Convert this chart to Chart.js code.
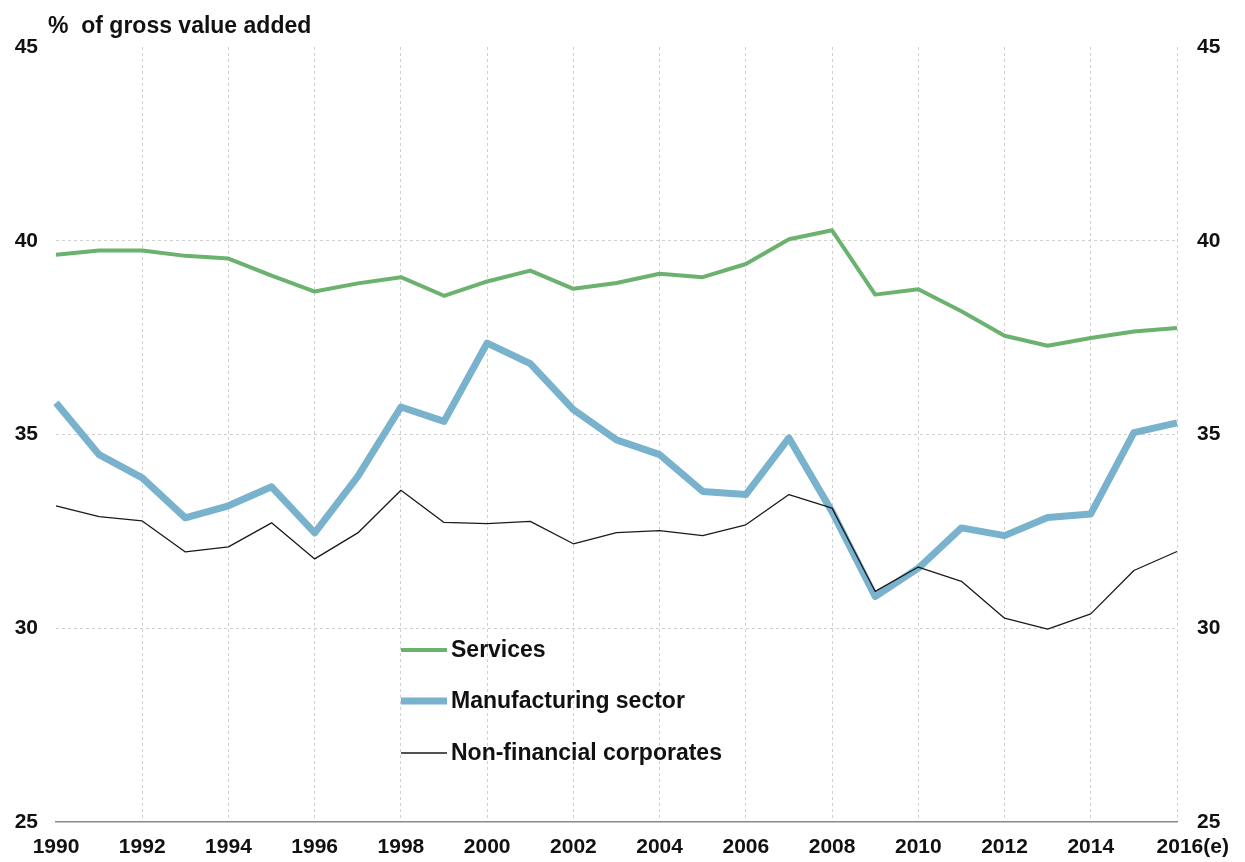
<!DOCTYPE html>
<html>
<head>
<meta charset="utf-8">
<script src="https://cdn.jsdelivr.net/npm/chart.js@4/dist/chart.umd.min.js"></script>
<style>
  html, body { margin: 0; padding: 0; background: #ffffff; }
  #wrap { width: 1245px; height: 862px; position: relative; }
</style>
</head>
<body>
<div id="wrap"><canvas id="c" width="1245" height="862"></canvas></div>
<script>
const years = ['1990','1991','1992','1993','1994','1995','1996','1997','1998','1999','2000','2001','2002','2003','2004','2005','2006','2007','2008','2009','2010','2011','2012','2013','2014','2015','2016(e)'];
const services = [39.64,39.75,39.75,39.61,39.54,39.10,38.69,38.90,39.06,38.58,38.95,39.23,38.76,38.91,39.15,39.06,39.40,40.04,40.27,38.61,38.75,38.18,37.55,37.29,37.49,37.66,37.75];
const manufacturing = [35.82,34.48,33.88,32.85,33.16,33.65,32.46,33.92,35.71,35.34,37.36,36.83,35.64,34.86,34.48,33.53,33.45,34.91,33.01,30.82,31.55,32.59,32.39,32.86,32.95,35.05,35.30];
const nonFinancial = [33.16,32.88,32.77,31.97,32.10,32.72,31.79,32.46,33.56,32.73,32.70,32.76,32.18,32.47,32.52,32.39,32.67,33.45,33.10,30.95,31.58,31.21,30.26,29.98,30.37,31.49,31.98];
const yTicks = [25,30,35,40,45];
const seriesNames = ['Services','Manufacturing sector','Non-financial corporates'];
const axisTitle = '%  of gross value added';

const GREEN = '#6cb26f';
const BLUE = '#79b2cc';
const BLACK = '#1a1a1a';
const GRID = '#d0d0d0';
const TEXT = '#111111';
const FONT = "'Liberation Sans', Arial, sans-serif";

const overlay = {
  id: 'overlay',
  afterDraw(chart) {
    const ctx = chart.ctx;
    ctx.save();
    ctx.fillStyle = TEXT;
    ctx.font = 'bold 23px ' + FONT;
    ctx.textBaseline = 'alphabetic';
    ctx.textAlign = 'left';
    ctx.fillText(axisTitle, 48, 33);
    const rowsY = [650, 701, 753];
    [0,1,2].forEach((di, k) => {
      const ds = chart.data.datasets[di];
      const y = rowsY[k];
      ctx.strokeStyle = ds.borderColor;
      ctx.lineWidth = ds.borderWidth;
      ctx.lineCap = 'butt';
      ctx.beginPath();
      ctx.moveTo(401, y);
      ctx.lineTo(447, y);
      ctx.stroke();
      ctx.fillStyle = TEXT;
      ctx.font = 'bold 23px ' + FONT;
      ctx.textBaseline = 'middle';
      ctx.fillText(ds.label, 451, y + 1);
    });
    ctx.restore();
  }
};

new Chart(document.getElementById('c'), {
  type: 'line',
  data: {
    labels: years,
    datasets: [
      { label: seriesNames[0], data: services, borderColor: GREEN, borderWidth: 4, order: 1 },
      { label: seriesNames[1], data: manufacturing, borderColor: BLUE, borderWidth: 7, order: 2 },
      { label: seriesNames[2], data: nonFinancial, borderColor: BLACK, borderWidth: 1.3, order: 0 }
    ]
  },
  options: {
    responsive: false,
    animation: false,
    devicePixelRatio: 1,
    layout: { padding: { top: 47, left: 0, right: 0, bottom: 0 } },
    elements: {
      point: { radius: 0, hoverRadius: 0 },
      line: { tension: 0, fill: false, borderJoinStyle: 'round', borderCapStyle: 'butt' }
    },
    plugins: { legend: { display: false }, tooltip: { enabled: false }, title: { display: false } },
    scales: {
      x: {
        type: 'category',
        offset: false,
        afterFit(s) { s.height = 40; },
        grid: {
          offset: false,
          drawTicks: false,
          lineWidth: 1,
          color: (c) => (c.index > 0 && c.index % 2 === 0) ? GRID : 'rgba(0,0,0,0)'
        },
        border: { display: true, color: '#8a8a8a', width: 1.5, dash: [3,3] },
        ticks: {
          autoSkip: false,
          maxRotation: 0,
          minRotation: 0,
          padding: 13,
          color: TEXT,
          font: { family: FONT, size: 21, weight: 'bold' },
          callback: function(v, i) {
            if (i % 2 !== 0) return '';
            const l = years[i];
            return i === years.length - 1 ? '\u2002\u2002\u2002' + l : l;
          }
        }
      },
      y: {
        position: 'left',
        min: 25, max: 45,
        afterFit(s) { s.width = 56; },
        afterBuildTicks(s) { s.ticks = yTicks.map(v => ({ value: v })); },
        grid: {
          drawTicks: false,
          lineWidth: 1,
          color: (c) => (c.tick && (c.tick.value === 25 || c.tick.value === 45)) ? 'rgba(0,0,0,0)' : GRID
        },
        border: { display: false, dash: [3,3] },
        ticks: {
          padding: 18,
          color: TEXT,
          font: { family: FONT, size: 21, weight: 'bold' }
        }
      },
      y2: {
        position: 'right',
        min: 25, max: 45,
        afterFit(s) { s.width = 68; },
        afterBuildTicks(s) { s.ticks = yTicks.map(v => ({ value: v })); },
        grid: { display: false, drawTicks: false },
        border: { display: false },
        ticks: {
          padding: 20,
          color: TEXT,
          font: { family: FONT, size: 21, weight: 'bold' }
        }
      }
    }
  },
  plugins: [overlay]
});
</script>
</body>
</html>
